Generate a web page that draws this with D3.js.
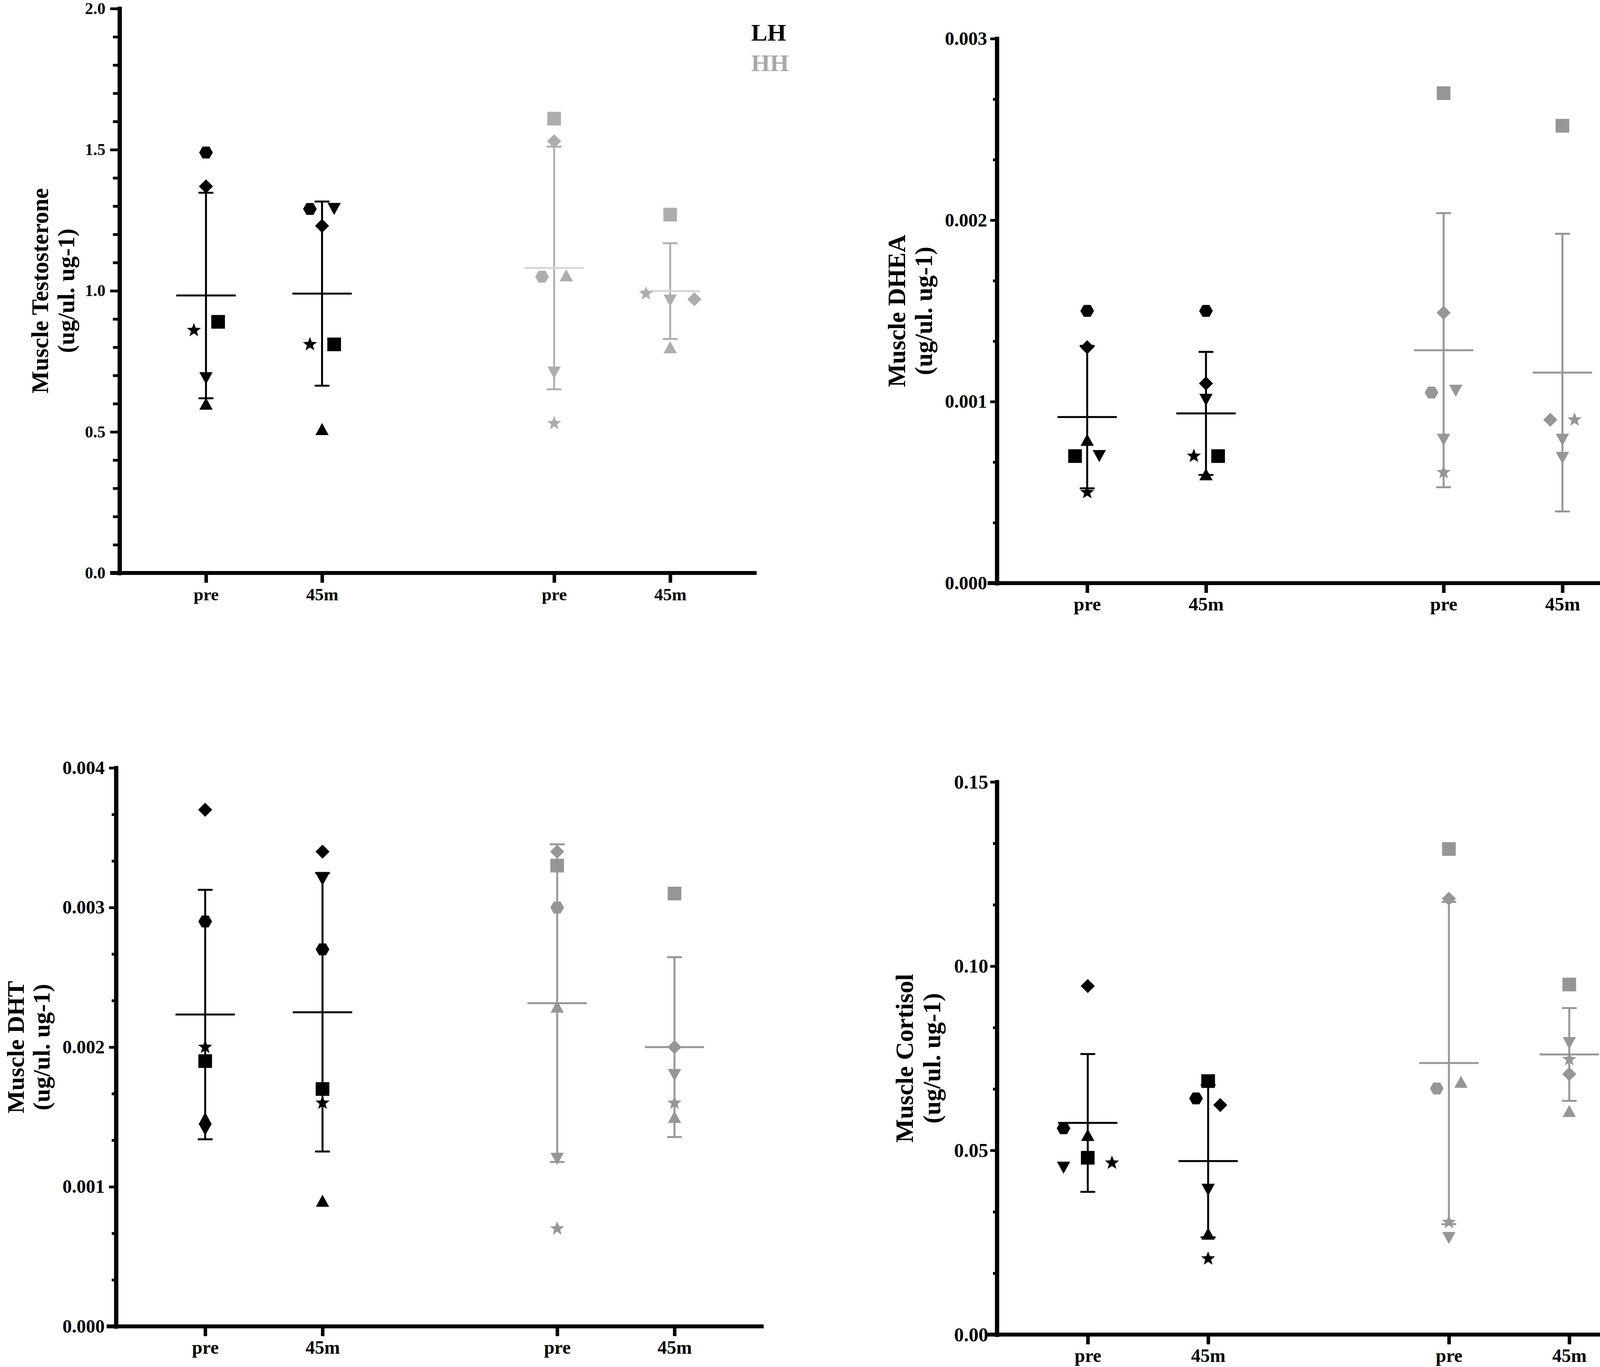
<!DOCTYPE html>
<html>
<head>
<meta charset="utf-8">
<script src="https://cdn.jsdelivr.net/npm/d3@7"></script>
<style>
html, body { margin: 0; padding: 0; background: #fff; }
svg text { font-family: "Liberation Serif", "Times New Roman", serif; font-weight: bold; }
</style>
</head>
<body>
<svg id="chart" width="4252" height="3500"></svg>
<script>
// ---------------- DATA ----------------
const categoryKeys = ["LH pre", "LH 45m", "gap", "HH pre", "HH 45m"];
const seriesKeys = ["LH pre", "LH 45m", "HH pre", "HH 45m"];
const categoryLabels = ["pre", "45m", "pre", "45m"];
const legendLabels = ["LH", "HH"];

// point records: [subject symbol, value, dodge lane]
const testoLHpre = [["hexagon",1.49,0],["diamond",1.37,0],["star",0.86,-0.5],["square",0.89,0.5],["triangleDown",0.69,0],["triangleUp",0.60,0]];
const testoLH45  = [["hexagon",1.29,-0.5],["triangleDown",1.29,0.5],["diamond",1.23,0],["star",0.81,-0.5],["square",0.81,0.5],["triangleUp",0.51,0]];
const testoHHpre = [["square",1.61,0],["diamond",1.53,0],["hexagon",1.05,-0.5],["triangleUp",1.055,0.5],["triangleDown",0.71,0],["star",0.53,0]];
const testoHH45  = [["square",1.27,0],["star",0.99,-1],["triangleDown",0.965,0],["diamond",0.97,1],["triangleUp",0.80,0]];
const testoTicks = [0, 0.5, 1.0, 1.5, 2.0];

const dheaLHpre = [["hexagon",0.0015,0],["diamond",0.0013,0],["triangleUp",0.00079,0],["square",0.0007,-0.5],["triangleDown",0.0007,0.5],["star",0.0005,0]];
const dheaLH45  = [["hexagon",0.0015,0],["diamond",0.0011,0],["triangleDown",0.00101,0],["star",0.0007,-0.5],["square",0.0007,0.5],["triangleUp",0.0006,0]];
const dheaHHpre = [["square",0.0027,0],["diamond",0.00149,0],["hexagon",0.00105,-0.5],["triangleDown",0.00106,0.5],["triangleDown",0.00079,0],["star",0.00061,0]];
const dheaHH45  = [["square",0.00252,0],["diamond",0.0009,-0.5],["star",0.0009,0.5],["triangleDown",0.00079,0],["triangleDown",0.00069,0]];
const dheaTicks = [0, 0.001, 0.002, 0.003];

const dhtLHpre = [["diamond",0.0037,0],["hexagon",0.0029,0],["star",0.0020,0],["square",0.0019,0],["triangleUp",0.00149,0],["triangleDown",0.00141,0]];
const dhtLH45  = [["diamond",0.0034,0],["triangleDown",0.0032,0],["hexagon",0.0027,0],["square",0.0017,0],["star",0.0016,0],["triangleUp",0.0009,0]];
const dhtHHpre = [["diamond",0.0034,0],["square",0.0033,0],["hexagon",0.0030,0],["triangleUp",0.00229,0],["triangleDown",0.0012,0],["star",0.0007,0]];
const dhtHH45  = [["square",0.0031,0],["diamond",0.0020,0],["triangleDown",0.0018,0],["star",0.0016,0],["triangleUp",0.0015,0]];
const dhtTicks = [0, 0.001, 0.002, 0.003, 0.004];

const cortLHpre = [["diamond",0.0946,0],["hexagon",0.056,-1],["triangleUp",0.0542,0],["square",0.048,0],["star",0.0466,1],["triangleDown",0.0453,-1]];
const cortLH45  = [["square",0.0688,0],["hexagon",0.0641,-0.5],["diamond",0.0623,0.5],["triangleDown",0.0393,0],["triangleUp",0.0274,0],["star",0.0206,0]];
const cortHHpre = [["square",0.1318,0],["diamond",0.1183,0],["hexagon",0.0668,-0.5],["triangleUp",0.0686,0.5],["star",0.0305,0],["triangleDown",0.0262,0]];
const cortHH45  = [["square",0.095,0],["triangleDown",0.0791,0],["star",0.0747,0],["diamond",0.0707,0],["triangleUp",0.0607,0]];
const cortTicks = [0, 0.05, 0.10, 0.15];

// ---------------- PANELS ----------------
const panels = [
  { title: ["Muscle Testosterone", "(ug/ul. ug-1)"], ticks: testoTicks, minorDiv: 5, fmt: ".1f",
    series: [testoLHpre, testoLH45, testoHHpre, testoHH45],
    geo: { axisX: 306, yTop: 22, yBottom: 1467, xEnd: 1937, pad: 0.745, majorLen: 24, minorLen: 17, tickPad: 12,
           tickFont: 42, catFont: 45, titleFont: 61, titleX: [123, 190] },
    hh: { mark: "#adadad", bar: "#b0b0b0", mean: "#d6d6d6" }, legend: true },
  { title: ["Muscle DHEA", "(ug/ul. ug-1)"], ticks: dheaTicks, minorDiv: 3, fmt: ".3f",
    series: [dheaLHpre, dheaLH45, dheaHHpre, dheaHH45],
    geo: { axisX: 2552, yTop: 99, yBottom: 1493, xEnd: 4231, pad: 0.76, majorLen: 17, minorLen: 10, tickPad: 8,
           tickFont: 48, catFont: 49, titleFont: 63, titleX: [2317, 2386] },
    hh: { mark: "#969696", bar: "#979797", mean: "#979797" } },
  { title: ["Muscle DHT", "(ug/ul. ug-1)"], ticks: dhtTicks, minorDiv: 3, fmt: ".3f",
    series: [dhtLHpre, dhtLH45, dhtHHpre, dhtHH45],
    geo: { axisX: 297, yTop: 1966, yBottom: 3396, xEnd: 1955, pad: 0.76, majorLen: 18, minorLen: 11, tickPad: 11,
           tickFont: 48, catFont: 48, titleFont: 62, titleX: [61, 127] },
    hh: { mark: "#969696", bar: "#979797", mean: "#979797" } },
  { title: ["Muscle Cortisol", "(ug/ul. ug-1)"], ticks: cortTicks, minorDiv: 3, fmt: ".2f",
    series: [cortLHpre, cortLH45, cortHHpre, cortHH45],
    geo: { axisX: 2552, yTop: 2002, yBottom: 3417, xEnd: 4250, pad: 0.755, majorLen: 17, minorLen: 10, tickPad: 5,
           tickFont: 50, catFont: 48, titleFont: 64, titleX: [2337, 2407] },
    hh: { mark: "#969696", bar: "#979797", mean: "#979797" } }
];

// ---------------- SYMBOLS ----------------
function shapePath(type) {
  switch (type) {
    case "square": return "M-17.5,-17.5h35v35h-35Z";
    case "diamond": return "M0,-18L18,0L0,18L-18,0Z";
    case "hexagon": {
      const r = 17.5;
      return "M" + d3.range(6).map(i => {
        const a = i * Math.PI / 3;
        return (r * Math.cos(a)).toFixed(2) + "," + (r * Math.sin(a)).toFixed(2);
      }).join("L") + "Z";
    }
    case "triangleUp": return "M0,-15.5L17,15.5L-17,15.5Z";
    case "triangleDown": return "M0,15.5L17,-15.5L-17,-15.5Z";
    case "star": {
      const ro = 19, ri = 8;
      return "M" + d3.range(10).map(i => {
        const a = -Math.PI / 2 + i * Math.PI / 5;
        const r = i % 2 === 0 ? ro : ri;
        return (r * Math.cos(a)).toFixed(2) + "," + (r * Math.sin(a)).toFixed(2);
      }).join("L") + "Z";
    }
  }
}

// ---------------- DRAW ----------------
const svg = d3.select("#chart");
svg.append("rect").attr("width", 4252).attr("height", 3500).attr("fill", "#fff");

const laneW = 62, meanHalf = 76, capHalf = 19;
const fontFamily = '"Liberation Serif", "Times New Roman", serif';

panels.forEach(p => {
  const G = p.geo;
  const g = svg.append("g");
  const domainMax = p.ticks[p.ticks.length - 1];
  const y = d3.scaleLinear().domain([p.ticks[0], domainMax]).range([G.yBottom, G.yTop]);
  const x = d3.scalePoint().domain(categoryKeys).range([G.axisX, G.xEnd]).padding(G.pad);

  // minor ticks
  const majorStep = p.ticks[1] - p.ticks[0];
  const nMinor = (p.ticks.length - 1) * p.minorDiv;
  const minor = d3.range(nMinor + 1).filter(i => i % p.minorDiv !== 0).map(i => p.ticks[0] + i * majorStep / p.minorDiv);
  g.append("g")
    .attr("transform", `translate(${G.axisX},0)`)
    .call(d3.axisLeft(y).tickValues(minor).tickSize(G.minorLen).tickFormat(""))
    .call(s => s.select(".domain").remove())
    .call(s => s.selectAll(".tick line").attr("stroke", "#000").attr("stroke-width", 7));

  // x axis line
  g.append("line")
    .attr("x1", G.axisX - 24).attr("x2", G.xEnd)
    .attr("y1", G.yBottom).attr("y2", G.yBottom)
    .attr("stroke", "#000").attr("stroke-width", 10);

  // major y axis
  g.append("g")
    .attr("transform", `translate(${G.axisX},0)`)
    .call(d3.axisLeft(y).tickValues(p.ticks).tickSize(G.majorLen).tickSizeOuter(0).tickPadding(G.tickPad).tickFormat(d3.format(p.fmt)))
    .attr("font-size", G.tickFont).attr("font-family", fontFamily).attr("font-weight", "bold")
    .call(s => s.select(".domain").attr("stroke", "#000").attr("stroke-width", 11).attr("stroke-linecap", "square"))
    .call(s => s.selectAll(".tick line").attr("stroke", "#000").attr("stroke-width", 7))
    .call(s => s.selectAll(".tick text").attr("fill", "#000"));

  // x category ticks + labels
  const catFont = G.catFont;
  g.append("g")
    .attr("transform", `translate(0,${G.yBottom})`)
    .call(d3.axisBottom(x).tickValues(seriesKeys).tickSize(25).tickPadding(70 - 0.71 * catFont - 25)
      .tickFormat((d, i) => categoryLabels[i]))
    .attr("font-size", catFont).attr("font-family", fontFamily).attr("font-weight", "bold")
    .call(s => s.select(".domain").remove())
    .call(s => s.selectAll(".tick line").attr("stroke", "#000").attr("stroke-width", 9))
    .call(s => s.selectAll(".tick text").attr("fill", "#000"));

  // y title
  const yMid = (G.yTop + G.yBottom) / 2;
  p.title.forEach((t, i) => {
    g.append("text")
      .attr("transform", `translate(${G.titleX[i]},${yMid}) rotate(-90)`)
      .attr("text-anchor", "middle")
      .attr("font-size", G.titleFont)
      .attr("fill", "#000")
      .text(t);
  });

  // series
  p.series.forEach((pts, si) => {
    const key = seriesKeys[si];
    const isLH = si < 2;
    const markC = isLH ? "#000" : p.hh.mark;
    const barC = isLH ? "#000" : p.hh.bar;
    const meanC = isLH ? "#000" : p.hh.mean;
    const vals = pts.map(d => d[1]);
    const m = d3.mean(vals), sd = d3.deviation(vals);
    const cx = x(key);
    const sg = g.append("g");
    sg.append("line").attr("x1", cx).attr("x2", cx).attr("y1", y(m + sd)).attr("y2", y(m - sd))
      .attr("stroke", barC).attr("stroke-width", 5);
    [m + sd, m - sd].forEach(v => {
      sg.append("line").attr("x1", cx - capHalf).attr("x2", cx + capHalf).attr("y1", y(v)).attr("y2", y(v))
        .attr("stroke", barC).attr("stroke-width", 5);
    });
    sg.append("line").attr("x1", cx - meanHalf).attr("x2", cx + meanHalf).attr("y1", y(m)).attr("y2", y(m))
      .attr("stroke", meanC).attr("stroke-width", 5);
    sg.selectAll("path.pt").data(pts).enter().append("path")
      .attr("class", "pt")
      .attr("d", d => shapePath(d[0]))
      .attr("transform", d => `translate(${cx + d[2] * laneW},${y(d[1])})`)
      .attr("fill", markC);
  });

  if (p.legend) {
    const colors = ["#000", "#a8a8a8"];
    legendLabels.forEach((l, i) => {
      g.append("text").attr("x", 1923).attr("y", 104 + i * 78)
        .attr("font-size", 62).attr("fill", colors[i]).text(l);
    });
  }
});
</script>
</body>
</html>
